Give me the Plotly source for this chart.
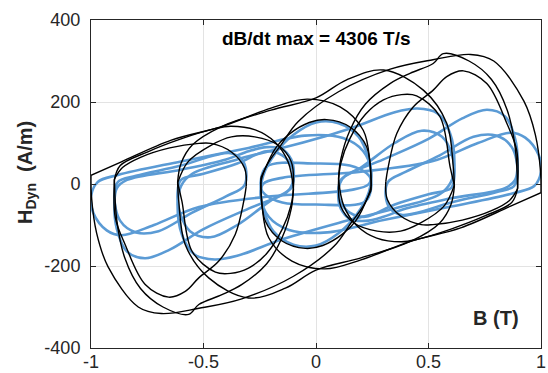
import plotly.graph_objects as go

# ---------------- tick labels ----------------
x_ticks = [-1, -0.5, 0, 0.5, 1]
x_ticklabels = ["-1", "-0.5", "0", "0.5", "1"]
y_ticks = [-400, -200, 0, 200, 400]
y_ticklabels = ["-400", "-200", "0", "200", "400"]

# ---------------- black loops (high dB/dt): upper / lower branches ----------------
L1_up_B = [-1.0, -0.865, -0.643, -0.42, -0.2, -0.04, 0.107, 0.21, 0.24, 0.245]
L1_up_H = [21, 54, 107, 140, 185, 207, 188, 131, 51, -15]
L1_lo_B = [0.245, 0.21, 0.156, 0.08, -0.1, -0.33, -0.52, -0.687, -0.79, -0.924, -0.975, -0.998, -1.0]
L1_lo_H = [-15, -54, -95, -152, -225, -280, -303, -316, -300, -202, -120, -30, 21]

L1p_up_B = [-0.245, -0.21, -0.156, -0.08, 0.1, 0.33, 0.52, 0.687, 0.79, 0.924, 0.975, 0.998, 1.0]
L1p_up_H = [15, 54, 95, 152, 225, 280, 303, 316, 300, 202, 120, 30, -21]
L1p_lo_B = [1.0, 0.865, 0.643, 0.42, 0.2, 0.04, -0.107, -0.21, -0.24, -0.245]
L1p_lo_H = [-21, -54, -107, -140, -185, -207, -188, -131, -51, 15]

L5_up_B = [-0.615, -0.6, -0.55, -0.42, -0.2, 0.0, 0.136, 0.3, 0.477, 0.581, 0.61, 0.615]
L5_up_H = [5, 50, 95, 140, 180, 210, 254, 278, 229, 148, 42, -5]
L5_lo_B = [0.615, 0.6, 0.55, 0.42, 0.2, 0.0, -0.136, -0.3, -0.477, -0.581, -0.61, -0.615]
L5_lo_H = [-5, -50, -95, -140, -180, -210, -254, -278, -229, -148, -42, 5]

L2_up_B = [-0.896, -0.87, -0.75, -0.6, -0.45, -0.38, -0.27, -0.184, -0.124, -0.10]
L2_up_H = [10, 45, 78, 110, 135, 141, 132, 103, 54, -12]
L2_lo_B = [-0.10, -0.11, -0.15, -0.22, -0.329, -0.418, -0.521, -0.566, -0.68, -0.78, -0.85, -0.885, -0.896]
L2_lo_H = [-12, -60, -130, -195, -245, -270, -294, -318, -300, -255, -180, -90, 10]

L2p_up_B = [0.10, 0.11, 0.15, 0.22, 0.329, 0.418, 0.521, 0.566, 0.68, 0.78, 0.85, 0.885, 0.896]
L2p_up_H = [12, 60, 130, 195, 245, 270, 294, 318, 300, 255, 180, 90, -10]
L2p_lo_B = [0.896, 0.87, 0.75, 0.6, 0.45, 0.38, 0.27, 0.184, 0.124, 0.10]
L2p_lo_H = [-10, -45, -78, -110, -135, -141, -132, -103, -54, 12]

L3_up_B = [-0.896, -0.86, -0.78, -0.65, -0.52, -0.467, -0.376, -0.317, -0.31]
L3_up_H = [12, 40, 65, 88, 99, 99, 78, 38, -5]
L3_lo_B = [-0.31, -0.321, -0.359, -0.432, -0.521, -0.581, -0.655, -0.759, -0.848, -0.892, -0.896]
L3_lo_H = [-5, -42, -123, -188, -229, -262, -276, -245, -148, -82, 12]

L3p_up_B = [0.31, 0.321, 0.359, 0.432, 0.521, 0.581, 0.655, 0.759, 0.848, 0.892, 0.896]
L3p_up_H = [5, 42, 123, 188, 229, 262, 276, 245, 148, 82, -12]
L3p_lo_B = [0.896, 0.86, 0.78, 0.65, 0.52, 0.467, 0.376, 0.317, 0.31]
L3p_lo_H = [-12, -40, -65, -88, -99, -99, -78, -38, 5]

L4_up_B = [-0.615, -0.569, -0.465, -0.376, -0.272, -0.169, -0.11, -0.10]
L4_up_H = [3, 54, 95, 115, 115, 95, 54, -5]
L4_lo_B = [-0.10, -0.11, -0.15, -0.22, -0.30, -0.38, -0.447, -0.551, -0.596, -0.615]
L4_lo_H = [-5, -50, -110, -170, -205, -218, -215, -164, -42, 3]

L4p_up_B = [0.10, 0.11, 0.15, 0.22, 0.30, 0.38, 0.447, 0.551, 0.596, 0.615]
L4p_up_H = [5, 50, 110, 170, 205, 218, 215, 164, 42, -3]
L4p_lo_B = [0.615, 0.569, 0.465, 0.376, 0.272, 0.169, 0.11, 0.10]
L4p_lo_H = [-3, -54, -95, -115, -115, -95, -54, 5]

L6_up_B = [-0.245, -0.234, -0.175, -0.116, -0.03, 0.047, 0.151, 0.225, 0.245, 0.245]
L6_up_H = [5, 26, 91, 123, 150, 157, 139, 91, 10, -5]
L6_lo_B = [0.245, 0.234, 0.175, 0.116, 0.03, -0.047, -0.151, -0.225, -0.245, -0.245]
L6_lo_H = [-5, -26, -91, -123, -150, -157, -139, -91, -10, 5]

# ---------------- blue loops (closed outlines) ----------------
bL1_B = [-1.0, -0.97, -0.88, -0.6, -0.3, -0.05, 0.12, 0.21, 0.245, 0.235, 0.15, -0.2, -0.52, -0.72, -0.865, -0.93, -0.99, -1.0]
bL1_H = [-30, 5, 22, 55, 88, 118, 112, 80, 30, 0, -15, -30, -56, -100, -125, -113, -70, -30]
bL1p_B = [1.0, 0.97, 0.88, 0.6, 0.3, 0.05, -0.12, -0.21, -0.245, -0.235, -0.15, 0.2, 0.52, 0.72, 0.865, 0.93, 0.99, 1.0]
bL1p_H = [30, -5, -22, -55, -88, -118, -112, -80, -30, 0, 15, 30, 56, 100, 125, 113, 70, 30]

bL5_B = [-0.615, -0.6, -0.55, -0.35, -0.1, 0.15, 0.35, 0.45, 0.54, 0.595, 0.615, 0.6, 0.55, 0.35, 0.1, -0.15, -0.35, -0.45, -0.54, -0.595, -0.615]
bL5_H = [-50, -5, 25, 60, 95, 135, 175, 184, 172, 125, 50, 5, -25, -60, -95, -135, -175, -184, -172, -125, -50]

bL2p_B = [0.10, 0.105, 0.13, 0.3, 0.5, 0.65, 0.76, 0.84, 0.885, 0.896, 0.885, 0.84, 0.6, 0.4, 0.3, 0.22, 0.15, 0.11, 0.10]
bL2p_H = [-40, 0, 20, 60, 110, 160, 181, 165, 110, 50, 10, -10, -35, -60, -80, -90, -85, -60, -40]
bL2_B = [-0.10, -0.105, -0.13, -0.3, -0.5, -0.65, -0.76, -0.84, -0.885, -0.896, -0.885, -0.84, -0.6, -0.4, -0.3, -0.22, -0.15, -0.11, -0.10]
bL2_H = [40, 0, -20, -60, -110, -160, -181, -165, -110, -50, -10, 10, 35, 60, 80, 90, 85, 60, 40]

bL3p_B = [0.31, 0.32, 0.4, 0.55, 0.7, 0.8, 0.87, 0.896, 0.88, 0.8, 0.6, 0.45, 0.38, 0.33, 0.31]
bL3p_H = [-30, 5, 30, 70, 115, 118, 90, 30, -5, -20, -45, -70, -75, -60, -30]
bL3_B = [-0.31, -0.32, -0.4, -0.55, -0.7, -0.8, -0.87, -0.896, -0.88, -0.8, -0.6, -0.45, -0.38, -0.33, -0.31]
bL3_H = [30, -5, -30, -70, -115, -118, -90, -30, 5, 20, 45, 70, 75, 60, 30]

bL4p_B = [0.10, 0.11, 0.2, 0.35, 0.47, 0.56, 0.605, 0.615, 0.6, 0.5, 0.35, 0.22, 0.15, 0.11, 0.10]
bL4p_H = [-20, 10, 40, 100, 130, 115, 70, 20, -10, -25, -50, -80, -70, -45, -20]
bL4_B = [-0.10, -0.11, -0.2, -0.35, -0.47, -0.56, -0.605, -0.615, -0.6, -0.5, -0.35, -0.22, -0.15, -0.11, -0.10]
bL4_H = [20, -10, -40, -100, -130, -115, -70, -20, 10, 25, 50, 80, 70, 45, 20]

bL6_B = [-0.245, -0.235, -0.18, -0.1, 0.0, 0.1, 0.19, 0.235, 0.245, 0.235, 0.18, 0.1, 0.0, -0.1, -0.19, -0.235, -0.245]
bL6_H = [-30, 20, 75, 120, 150, 148, 115, 60, 30, -20, -75, -120, -150, -148, -115, -60, -30]
bL6b_B = [-0.245, -0.22, 0.0, 0.15, 0.225, 0.245, 0.22, 0.0, -0.15, -0.225, -0.245]
bL6b_H = [-10, 42, 50, 45, 26, 10, -42, -50, -45, -26, -10]

BLUE = "rgb(91,155,213)"
BLACK = "black"

fig = go.Figure()

blue_loops = [
    (bL1_B, bL1_H), (bL1p_B, bL1p_H), (bL5_B, bL5_H),
    (bL2_B, bL2_H), (bL2p_B, bL2p_H), (bL3_B, bL3_H), (bL3p_B, bL3p_H),
    (bL4_B, bL4_H), (bL4p_B, bL4p_H), (bL6_B, bL6_H), (bL6b_B, bL6b_H),
]
for bx, by in blue_loops:
    fig.add_trace(go.Scatter(x=bx, y=by, mode="lines",
                             line=dict(color=BLUE, width=2.6, shape="spline", smoothing=1.0),
                             hoverinfo="skip", showlegend=False))

black_branches = [
    (L1_up_B, L1_up_H), (L1_lo_B, L1_lo_H), (L1p_up_B, L1p_up_H), (L1p_lo_B, L1p_lo_H),
    (L5_up_B, L5_up_H), (L5_lo_B, L5_lo_H),
    (L2_up_B, L2_up_H), (L2_lo_B, L2_lo_H), (L2p_up_B, L2p_up_H), (L2p_lo_B, L2p_lo_H),
    (L3_up_B, L3_up_H), (L3_lo_B, L3_lo_H), (L3p_up_B, L3p_up_H), (L3p_lo_B, L3p_lo_H),
    (L4_up_B, L4_up_H), (L4_lo_B, L4_lo_H), (L4p_up_B, L4p_up_H), (L4p_lo_B, L4p_lo_H),
    (L6_up_B, L6_up_H), (L6_lo_B, L6_lo_H),
]
for bx, by in black_branches:
    fig.add_trace(go.Scatter(x=bx, y=by, mode="lines",
                             line=dict(color=BLACK, width=1.4, shape="spline", smoothing=1.0),
                             hoverinfo="skip", showlegend=False))

FONT = "Liberation Sans, Arial, sans-serif"
AX = "#262626"
GRID = "#e3e3e3"

fig.update_layout(
    width=548, height=373,
    margin=dict(l=91, r=7, t=20, b=25, autoexpand=False),
    paper_bgcolor="white", plot_bgcolor="white",
    font=dict(family=FONT, size=18, color=AX),
    showlegend=False,
    xaxis=dict(range=[-1, 1], tickvals=x_ticks, ticktext=x_ticklabels,
               showgrid=True, gridcolor=GRID, gridwidth=1, zeroline=False,
               showline=True, linecolor=AX, linewidth=1, mirror="ticks",
               ticks="inside", ticklen=5, tickcolor=AX, tickwidth=1,
               automargin=False, ticklabelstandoff=-3,
               tickfont=dict(family=FONT, size=18, color=AX)),
    yaxis=dict(range=[-400, 400], tickvals=y_ticks, ticktext=y_ticklabels,
               showgrid=True, gridcolor=GRID, gridwidth=1, zeroline=False,
               showline=True, linecolor=AX, linewidth=1, mirror="ticks",
               ticks="inside", ticklen=5, tickcolor=AX, tickwidth=1,
               ticklabelstandoff=6, automargin=False,
               tickfont=dict(family=FONT, size=18, color=AX)),
    annotations=[
        dict(text="<b>dB/dt max = 4306 T/s</b>", xref="paper", yref="paper",
             x=0.502, y=0.945, xanchor="center", yanchor="middle", showarrow=False,
             font=dict(family=FONT, size=19, color="black")),
        dict(text="<b>B (T)</b>", xref="paper", yref="paper",
             x=0.955, y=0.09, xanchor="right", yanchor="middle", showarrow=False,
             font=dict(family=FONT, size=20, color="#262626")),
        dict(text="<b>H<sub>Dyn</sub>  (A/m)</b>", xref="paper", yref="paper",
             x=-0.142, y=0.534, xanchor="center", yanchor="middle", showarrow=False,
             textangle=-90, font=dict(family=FONT, size=20, color="#262626")),
    ],
)

fig.write_html("out.html",
               config={"displayModeBar": False, "staticPlot": True},
               post_script="document.body.style.margin='0';document.body.style.overflow='hidden';")
